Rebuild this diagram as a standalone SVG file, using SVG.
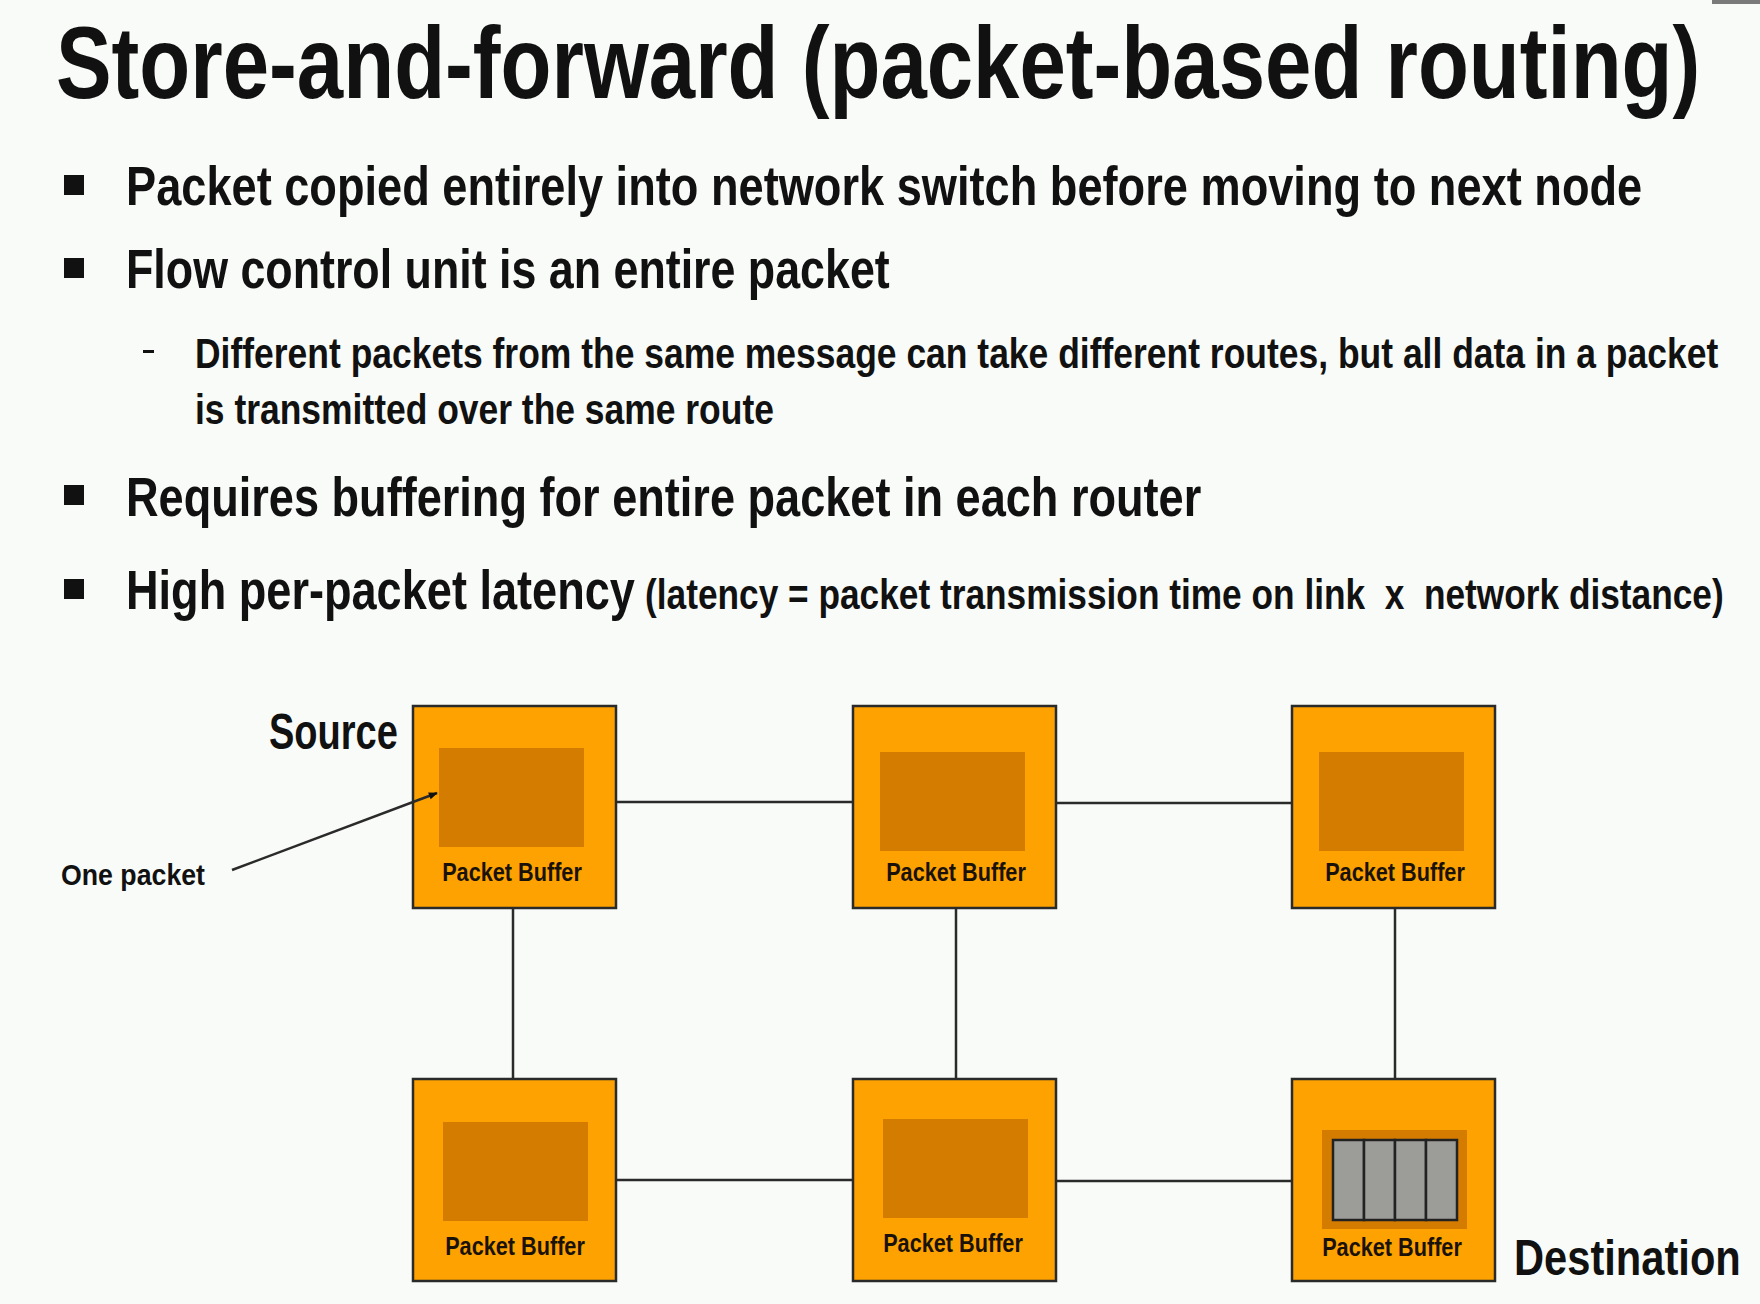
<svg xmlns="http://www.w3.org/2000/svg" width="1760" height="1304" viewBox="0 0 1760 1304">
  <defs>
    <style>
      text { font-family: "Liberation Sans", Arial, sans-serif; font-weight: bold; fill: #111; }
      .title { font-size: 102px; }
      .bullet { font-size: 56px; }
      .sub { font-size: 43px; }
      .label { font-size: 50px; }
      .small { font-size: 30px; }
      .buf { font-size: 26px; fill: #1a1208; }
      .box { fill: #fda200; stroke: #2a2a2a; stroke-width: 2.5; }
      .inner { fill: #d47c00; }
      .cell { fill: #9c9d98; stroke: #222; stroke-width: 2.5; }
      .link { stroke: #2a2a2a; stroke-width: 2.5; fill: none; }
      .sq { fill: #111; }
    </style>
    <marker id="arrow" viewBox="0 0 10 10" refX="9" refY="5" markerWidth="11" markerHeight="9" orient="auto" markerUnits="userSpaceOnUse">
      <path d="M0,1 L10,5 L0,9 z" fill="#111"/>
    </marker>
  </defs>

  <!-- page -->
  <rect x="0" y="0" width="1760" height="1304" fill="#f9fbf8"/>
  <rect x="1712" y="0" width="48" height="4" fill="#7a7a7a"/>

  <!-- heading (condensed by a horizontal squeeze) -->
  <text class="title" transform="translate(56 98) scale(0.7 1)" textLength="2349" lengthAdjust="spacingAndGlyphs">Store-and-forward (packet-based routing)</text>

  <!-- bullet list -->
  <g id="bullets">
    <rect class="sq" x="64" y="175" width="20" height="20"/>
    <text class="bullet" transform="translate(126 205) scale(0.7 1)" textLength="2166" lengthAdjust="spacingAndGlyphs">Packet copied entirely into network switch before moving to next node</text>
    <rect class="sq" x="64" y="258" width="20" height="20"/>
    <text class="bullet" transform="translate(126 288) scale(0.7 1)" textLength="1091" lengthAdjust="spacingAndGlyphs">Flow control unit is an entire packet</text>
    <rect class="sq" x="143" y="350" width="11" height="3"/>
    <text class="sub" transform="translate(195 368) scale(0.7 1)" textLength="2176" lengthAdjust="spacingAndGlyphs">Different packets from the same message can take different routes, but all data in a packet</text>
    <text class="sub" transform="translate(195 424) scale(0.7 1)" textLength="827" lengthAdjust="spacingAndGlyphs">is transmitted over the same route</text>
    <rect class="sq" x="64" y="485" width="20" height="20"/>
    <text class="bullet" transform="translate(126 516) scale(0.7 1)" textLength="1536" lengthAdjust="spacingAndGlyphs">Requires buffering for entire packet in each router</text>
    <rect class="sq" x="64" y="579" width="20" height="20"/>
    <text class="bullet" transform="translate(126 609) scale(0.7 1)" textLength="727" lengthAdjust="spacingAndGlyphs">High per-packet latency</text>
    <text class="sub" transform="translate(645 609) scale(0.7 1)" textLength="1541" lengthAdjust="spacingAndGlyphs">(latency = packet transmission time on link&#160; x &#160;network distance)</text>
  </g>

  <!-- switches -->
  <g id="node-source">
    <rect class="box" x="413" y="706" width="203" height="202"/>
    <rect class="inner" x="439" y="748" width="145" height="99"/>
    <text class="buf" transform="translate(512 881) scale(0.72 1)" text-anchor="middle" textLength="194" lengthAdjust="spacingAndGlyphs">Packet Buffer</text>
  </g>
  <g id="node-top-middle">
    <rect class="box" x="853" y="706" width="203" height="202"/>
    <rect class="inner" x="880" y="752" width="145" height="99"/>
    <text class="buf" transform="translate(956 881) scale(0.72 1)" text-anchor="middle" textLength="194" lengthAdjust="spacingAndGlyphs">Packet Buffer</text>
  </g>
  <g id="node-top-right">
    <rect class="box" x="1292" y="706" width="203" height="202"/>
    <rect class="inner" x="1319" y="752" width="145" height="99"/>
    <text class="buf" transform="translate(1395 881) scale(0.72 1)" text-anchor="middle" textLength="194" lengthAdjust="spacingAndGlyphs">Packet Buffer</text>
  </g>
  <g id="node-bottom-left">
    <rect class="box" x="413" y="1079" width="203" height="202"/>
    <rect class="inner" x="443" y="1122" width="145" height="99"/>
    <text class="buf" transform="translate(515 1255) scale(0.72 1)" text-anchor="middle" textLength="194" lengthAdjust="spacingAndGlyphs">Packet Buffer</text>
  </g>
  <g id="node-bottom-middle">
    <rect class="box" x="853" y="1079" width="203" height="202"/>
    <rect class="inner" x="883" y="1119" width="145" height="99"/>
    <text class="buf" transform="translate(953 1252) scale(0.72 1)" text-anchor="middle" textLength="194" lengthAdjust="spacingAndGlyphs">Packet Buffer</text>
  </g>
  <g id="node-destination">
    <rect class="box" x="1292" y="1079" width="203" height="202"/>
    <rect class="inner" x="1322" y="1130" width="145" height="99"/>
    <rect class="cell" x="1333" y="1140" width="31" height="80"/>
    <rect class="cell" x="1364" y="1140" width="31" height="80"/>
    <rect class="cell" x="1395" y="1140" width="31" height="80"/>
    <rect class="cell" x="1426" y="1140" width="31" height="80"/>
    <text class="buf" transform="translate(1392 1256) scale(0.72 1)" text-anchor="middle" textLength="194" lengthAdjust="spacingAndGlyphs">Packet Buffer</text>
  </g>

  <!-- links between switches, plus the pointer into the source buffer -->
  <g id="connectors">
    <line class="link" x1="616" y1="802" x2="853" y2="802"/>
    <line class="link" x1="1056" y1="803" x2="1292" y2="803"/>
    <line class="link" x1="616" y1="1180" x2="853" y2="1180"/>
    <line class="link" x1="1056" y1="1181" x2="1292" y2="1181"/>
    <line class="link" x1="513" y1="908" x2="513" y2="1079"/>
    <line class="link" x1="956" y1="908" x2="956" y2="1079"/>
    <line class="link" x1="1395" y1="908" x2="1395" y2="1079"/>
    <line class="link" x1="232" y1="870" x2="437" y2="793" marker-end="url(#arrow)"/>
  </g>

  <!-- annotations -->
  <g id="labels">
    <text class="label" transform="translate(269 749) scale(0.72 1)" textLength="179" lengthAdjust="spacingAndGlyphs">Source</text>
    <text class="label" transform="translate(1514 1275) scale(0.72 1)" textLength="315" lengthAdjust="spacingAndGlyphs">Destination</text>
    <text class="small" transform="translate(61 885) scale(0.72 1)" textLength="200" lengthAdjust="spacingAndGlyphs">One packet</text>
  </g>
</svg>
